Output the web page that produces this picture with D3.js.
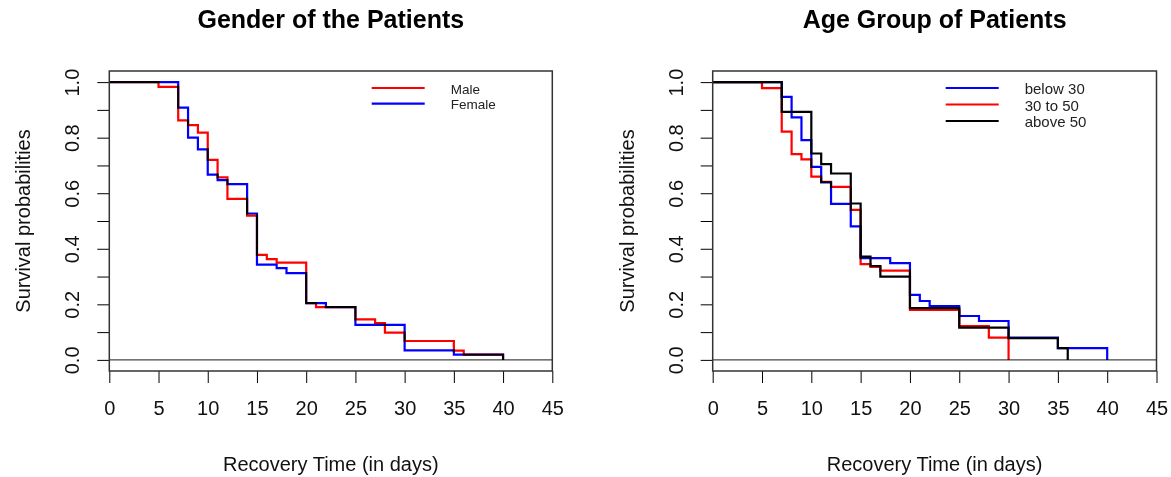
<!DOCTYPE html>
<html>
<head>
<meta charset="utf-8">
<script src="https://cdn.jsdelivr.net/npm/d3@7"></script>
<style>
  body { margin: 0; background: #fff; }
  svg { display: block; font-family: "Liberation Sans", Arial, sans-serif; }
  .curve { fill: none; stroke-width: 2.2; mix-blend-mode: multiply; }
</style>
</head>
<body>
<div id="chart"></div>
<script>
// ---- data ----
var xTicks = [0, 5, 10, 15, 20, 25, 30, 35, 40, 45];
var yTicks = [0, 0.1, 0.2, 0.3, 0.4, 0.5, 0.6, 0.7, 0.8, 0.9, 1.0];
var yLabels = [0, 0.2, 0.4, 0.6, 0.8, 1.0];

// Gender
var maleTime = [0, 5, 7, 8, 9, 10, 11, 12, 14, 15, 16, 17, 20, 21, 25, 27, 28, 30, 35, 36, 40];
var maleSurv = [1, 0.983, 0.862, 0.845, 0.818, 0.72, 0.657, 0.58, 0.519, 0.378, 0.363, 0.35, 0.204, 0.19, 0.146, 0.132, 0.098, 0.068, 0.033, 0.019, 0];
var femaleTime = [0, 7, 8, 9, 10, 11, 12, 14, 15, 17, 18, 20, 22, 25, 30, 35, 40];
var femaleSurv = [1, 0.908, 0.80, 0.758, 0.667, 0.647, 0.633, 0.527, 0.343, 0.33, 0.312, 0.204, 0.19, 0.126, 0.034, 0.019, 0];

// Age group
var below30Time = [0, 7, 8, 9, 10, 11, 12, 14, 15, 18, 20, 21, 22, 25, 27, 30, 35, 40];
var below30Surv = [1, 0.947, 0.873, 0.791, 0.695, 0.639, 0.562, 0.481, 0.366, 0.348, 0.234, 0.212, 0.194, 0.158, 0.14, 0.08, 0.042, 0];
var mid30Time = [0, 5, 7, 8, 9, 10, 11, 12, 14, 15, 16, 17, 20, 25, 28, 30];
var mid30Surv = [1, 0.978, 0.822, 0.741, 0.722, 0.66, 0.641, 0.623, 0.54, 0.345, 0.335, 0.321, 0.18, 0.122, 0.08, 0];
var above50Time = [0, 7, 10, 11, 12, 14, 15, 16, 17, 20, 25, 30, 35, 36];
var above50Surv = [1, 0.893, 0.743, 0.705, 0.671, 0.563, 0.372, 0.338, 0.30, 0.186, 0.116, 0.078, 0.042, 0];

var W = 1171, H = 477;

var svg = d3.select("#chart").append("svg")
    .attr("width", W)
    .attr("height", H);

function zip(t, s) {
  return t.map(function(d, i) { return [d, s[i]]; });
}

function panel(opts) {
  var x = d3.scaleLinear().domain([0, 45]).range([opts.left, opts.right]);
  var y = d3.scaleLinear().domain([-0.04, 1.04]).range([371, 71]);
  var g = svg.append("g");

  // title
  g.append("text")
      .attr("x", (opts.left + opts.right) / 2)
      .attr("y", 28)
      .attr("text-anchor", "middle")
      .style("font-size", "25px")
      .style("font-weight", "bold")
      .text(opts.title);

  // x axis
  var xa = g.append("g")
      .attr("transform", "translate(0," + y(-0.04) + ")")
      .call(d3.axisBottom(x).tickValues(xTicks).tickSize(12).tickPadding(18).tickSizeOuter(0));
  xa.select(".domain").remove();
  xa.selectAll("text").style("font-size", "20px").attr("fill", "#111");

  // y axis
  var ya = g.append("g")
      .attr("transform", "translate(" + opts.left + ",0)")
      .call(d3.axisLeft(y).tickValues(yTicks).tickSize(12).tickSizeOuter(0)
        .tickFormat(function(d) {
          return yLabels.some(function(v) { return Math.abs(v - d) < 1e-9; }) ? d3.format(".1f")(d) : "";
        }));
  ya.select(".domain").remove();
  ya.selectAll("text")
      .attr("x", 0)
      .attr("y", -37)
      .attr("dy", "0.35em")
      .attr("transform", "rotate(-90)")
      .attr("text-anchor", "middle")
      .style("font-size", "20px")
      .attr("fill", "#111");

  // axis titles
  g.append("text")
      .attr("x", (opts.left + opts.right) / 2)
      .attr("y", 471)
      .attr("text-anchor", "middle")
      .style("font-size", "20px")
      .attr("fill", "#111")
      .text("Recovery Time (in days)");
  g.append("text")
      .attr("transform", "translate(" + (opts.left - 86) + "," + y(0.5) + ") rotate(-90)")
      .attr("dy", "0.35em")
      .attr("text-anchor", "middle")
      .style("font-size", "20px")
      .attr("fill", "#111")
      .text("Survival probabilities");

  // zero line
  g.append("line")
      .attr("x1", x(0)).attr("x2", x(45))
      .attr("y1", y(0)).attr("y2", y(0))
      .attr("stroke", "#444").attr("stroke-width", 1.3);

  // curves
  var line = d3.line()
      .x(function(d) { return x(d[0]); })
      .y(function(d) { return y(d[1]); })
      .curve(d3.curveStepAfter);

  opts.series.forEach(function(s) {
    g.append("path")
        .attr("class", "curve")
        .attr("stroke", s.color)
        .attr("d", line(zip(s.time, s.surv)));
  });

  // box
  g.append("rect")
      .attr("x", x(0)).attr("y", y(1.04))
      .attr("width", x(45) - x(0))
      .attr("height", y(-0.04) - y(1.04))
      .attr("fill", "none")
      .attr("stroke", "#333")
      .attr("stroke-width", 1.5);

  // legend
  var lg = g.append("g");
  opts.legendOrder.forEach(function(s, i) {
    var ly = opts.legendY + i * opts.legendStep;
    lg.append("line")
        .attr("x1", opts.legendX).attr("x2", opts.legendX + 53)
        .attr("y1", ly).attr("y2", ly)
        .attr("stroke", s.color).attr("stroke-width", 2.2);
    lg.append("text")
        .attr("x", opts.legendX + 79)
        .attr("y", ly + 1)
        .attr("dy", "0.35em")
        .style("font-size", opts.legendFont + "px")
        .attr("fill", "#222")
        .text(s.name);
  });
}

var male = { name: "Male", color: "#ff0000", time: maleTime, surv: maleSurv };
var female = { name: "Female", color: "#0000ff", time: femaleTime, surv: femaleSurv };
var below30 = { name: "below 30", color: "#0000ff", time: below30Time, surv: below30Surv };
var mid30 = { name: "30 to 50", color: "#ff0000", time: mid30Time, surv: mid30Surv };
var above50 = { name: "above 50", color: "#000000", time: above50Time, surv: above50Surv };

panel({
  title: "Gender of the Patients",
  left: 109.3, right: 552.3,
  series: [male, female],
  legendOrder: [male, female],
  legendX: 371.7, legendY: 88, legendStep: 15.7, legendFont: 13.5
});

panel({
  title: "Age Group of Patients",
  left: 712.7, right: 1156.5,
  series: [below30, mid30, above50],
  legendOrder: [below30, mid30, above50],
  legendX: 945.7, legendY: 88, legendStep: 16.5, legendFont: 15
});
</script>
</body>
</html>
